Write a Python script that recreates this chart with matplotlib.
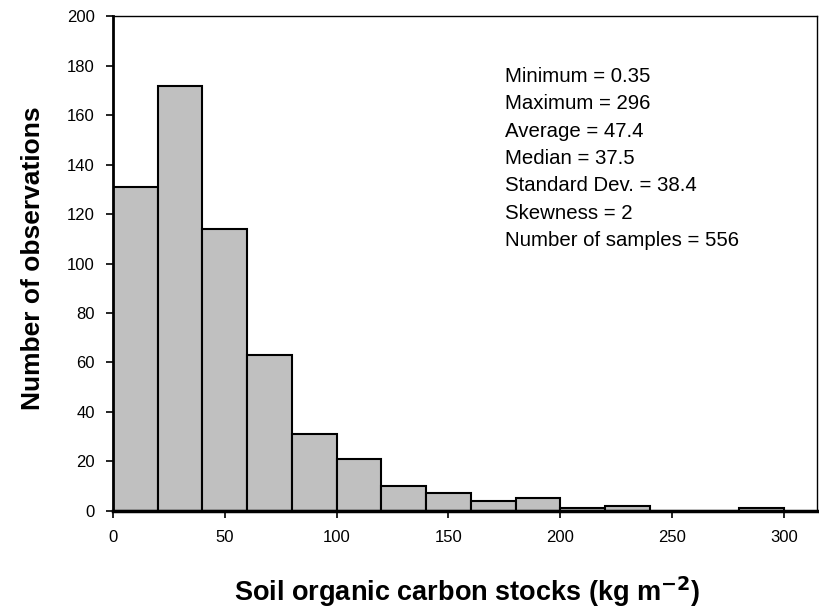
import matplotlib.pyplot as plt
import numpy as np

plt.rcParams['font.family'] = ['Liberation Sans', 'DejaVu Sans']

# histogram of soil organic carbon stocks, 20 kg/m2 bins
bin_edges = [0, 20, 40, 60, 80, 100, 120, 140, 160, 180, 200, 220, 240, 260, 280, 300]
counts = [131, 172, 114, 63, 31, 21, 10, 7, 4, 5, 1, 2, 0, 0, 1]

stats_lines = [
    "Minimum = 0.35",
    "Maximum = 296",
    "Average = 47.4",
    "Median = 37.5",
    "Standard Dev. = 38.4",
    "Skewness = 2",
    "Number of samples = 556",
]

fig = plt.figure(figsize=(8.19, 6.1), dpi=100)
ax = fig.add_axes([0.138, 0.163, 0.860, 0.810])

lefts = np.array(bin_edges[:-1])
widths = np.diff(bin_edges)
ax.bar(lefts, counts, width=widths, align='edge', color='#c0c0c0',
       edgecolor='black', linewidth=1.5)

ax.set_xlim(0, 315)
ax.set_ylim(0, 200)
ax.set_xticks([0, 50, 100, 150, 200, 250, 300])
ax.set_yticks(range(0, 201, 20))
ax.tick_params(direction='out', length=5, width=1.2, labelsize=12, colors='black')
ax.tick_params(axis='x', pad=9)
ax.tick_params(axis='y', pad=8)

ax.spines['left'].set_linewidth(2)
ax.spines['bottom'].set_linewidth(2.5)
ax.spines['top'].set_linewidth(1)
ax.spines['right'].set_linewidth(1)

ax.set_ylabel("Number of observations", fontsize=19, fontweight='bold')
ax.set_xlabel("Soil organic carbon stocks (kg m$^{\\mathbf{-2}}$)", fontsize=19.5,
              fontweight='bold')
ax.yaxis.set_label_coords(-0.097, 0.51)
ax.xaxis.set_label_coords(0.503, -0.13)

# summary statistics block
ax.text(0.556, 0.898, "\n".join(stats_lines), transform=ax.transAxes,
        fontsize=14.7, va='top', ha='left', linespacing=1.56)

fig.savefig("out.png", dpi=100)
